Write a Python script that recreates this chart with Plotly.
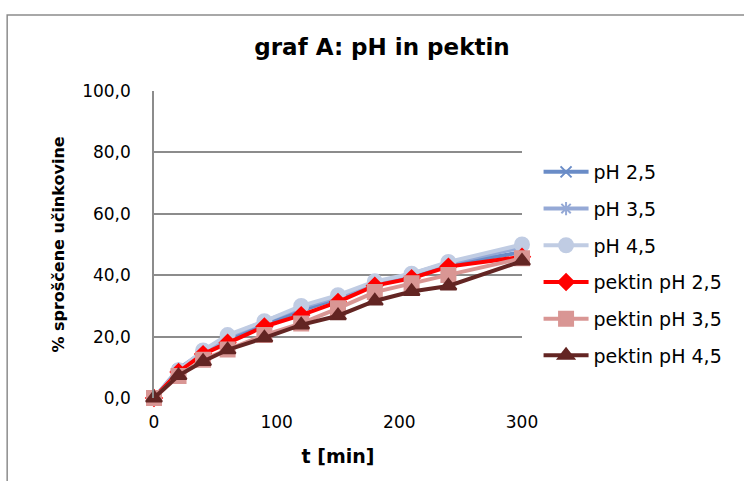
import plotly.graph_objects as go

t = [0, 20, 40, 60, 90, 120, 150, 180, 210, 240, 300]
ph25 = [0, 9.0, 14.5, 19.0, 24.0, 28.5, 32.5, 37.0, 40.0, 43.5, 47.5]
ph35 = [0, 9.5, 15.0, 20.0, 25.0, 29.5, 33.0, 37.5, 40.5, 44.0, 49.0]
ph45 = [0, 9.0, 15.5, 20.5, 25.0, 30.0, 33.5, 38.0, 40.5, 44.3, 50.0]
pek25 = [0, 8.5, 14.3, 18.0, 23.3, 27.0, 31.3, 36.6, 39.0, 42.8, 46.0]
pek35 = [0, 7.2, 12.5, 15.8, 20.5, 24.3, 29.2, 34.5, 37.4, 40.1, 45.5]
pek45 = [0, 7.3, 11.9, 15.7, 19.6, 23.8, 26.8, 31.6, 34.7, 36.5, 44.6]

names = ["pH 2,5", "pH 3,5", "pH 4,5", "pektin pH 2,5", "pektin pH 3,5", "pektin pH 4,5"]
series = [ph25, ph35, ph45, pek25, pek35, pek45]
colors = ["#6A8CC7", "#95A9D6", "#C0CCE3", "#FF0000", "#D99694", "#632523"]
symbols = ["x-thin-open", "asterisk-open", "circle", "diamond", "square", "triangle-up"]
msizes = [11, 11, 14, 12, 14, 14]

fig = go.Figure()
for i, (n, s, c, sym, ms) in enumerate(zip(names, series, colors, symbols, msizes)):
    fig.add_trace(go.Scatter(
        x=t, y=s, name=n, mode="lines+markers",
        line=dict(color=c, width=4),
        marker=dict(symbol=sym, size=ms, color=c, line=dict(color=c, width=2)),
        legendgroup=f"g{i}", cliponaxis=False,
    ))

fig.add_shape(type="rect", xref="paper", yref="paper",
              x0=-0.399, x1=1.7, y0=-0.6, y1=1.2476,
              line=dict(color="#8C8C8C", width=1.5), fillcolor="rgba(0,0,0,0)", layer="below")

fig.update_layout(
    width=744, height=481,
    margin=dict(l=154, r=222, t=91, b=83),
    paper_bgcolor="white", plot_bgcolor="white",
    separators=",.",
    font=dict(family="DejaVu Sans, sans-serif", color="#000000", size=17),
    title=dict(text="<b>graf A: pH in pektin</b>", x=382/744, xanchor="center",
               y=1 - 47/481, yanchor="middle", font=dict(size=23)),
    showlegend=True,
    legend=dict(x=1.045, xanchor="left", y=(398 - 153) / 307, yanchor="top",
                font=dict(size=19), tracegroupgap=9, bgcolor="rgba(0,0,0,0)",
                itemwidth=45),
    xaxis=dict(range=[0, 300], tickvals=[0, 100, 200, 300], showgrid=False,
               zeroline=False, showline=False, ticks="", ticklabelstandoff=12,
               title=dict(text="<b>t [min]</b>", font=dict(size=19), standoff=18)),
    yaxis=dict(range=[0, 100], tickvals=[0, 20, 40, 60, 80, 100], tickformat=".1f",
               showgrid=True, gridcolor="#8C8C8C", gridwidth=1.5,
               zeroline=False, showline=True, linecolor="#8C8C8C", linewidth=1.5,
               ticks="", ticklabelstandoff=18,
               title=dict(text="<b>% sproščene učinkovine</b>", font=dict(size=16), standoff=14)),
)

fig.write_html("out.html")
